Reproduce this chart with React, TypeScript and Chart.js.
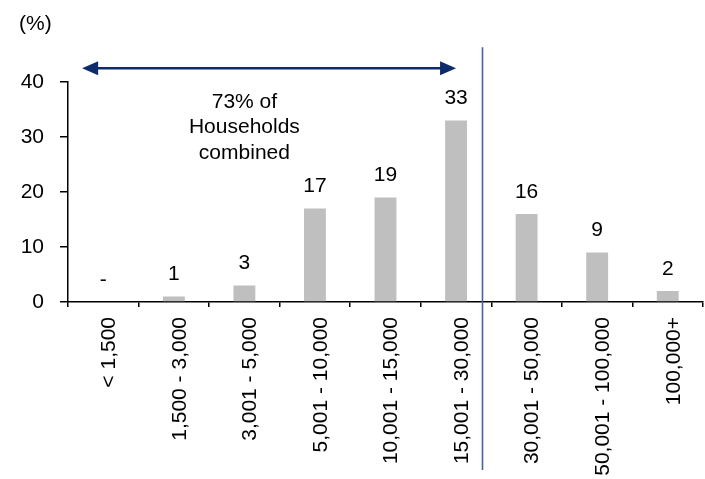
import React, { useEffect, useRef } from "react";
import { Chart, registerables } from "chart.js";

Chart.register(...registerables);

const categories = [
  "< 1,500",
  "1,500 - 3,000",
  "3,001 - 5,000",
  "5,001 - 10,000",
  "10,001 - 15,000",
  "15,001 - 30,000",
  "30,001 - 50,000",
  "50,001 - 100,000",
  "100,000+",
];
const shares = [0, 1, 3, 17, 19, 33, 16, 9, 2];
const unitLabel = "(%)";
const noteLines = ["73% of", "Households", "combined"];

const FONT = '"Liberation Sans", Arial, sans-serif';

const annotPlugin = {
  id: "annot",
  afterDatasetsDraw(chart: any) {
    const { ctx } = chart;
    const xs = chart.scales.x;
    const ys = chart.scales.y;
    const meta = chart.getDatasetMeta(0);
    ctx.save();
    ctx.font = `21px ${FONT}`;
    ctx.fillStyle = "#000";
    ctx.textAlign = "center";
    ctx.textBaseline = "middle";
    meta.data.forEach((bar: any, i: number) => {
      const v = shares[i];
      ctx.fillText(v === 0 ? "-" : String(v), bar.x, bar.y - 22);
    });

    // unit label
    ctx.textAlign = "left";
    ctx.fillText(unitLabel, 19, 24);

    // note text
    ctx.textAlign = "center";
    const cx = xs.getPixelForValue(2);
    const y0 = ys.getPixelForValue(36.4);
    noteLines.forEach((t, k) => ctx.fillText(t, cx, y0 + k * 25.5));

    // arrow
    const ay = ys.getPixelForValue(42.5);
    const ax1 = xs.getPixelForValue(-0.3);
    const ax2 = xs.getPixelForValue(5);
    const navy = "#0d2a6b";
    ctx.strokeStyle = navy;
    ctx.fillStyle = navy;
    ctx.lineWidth = 2.5;
    ctx.beginPath();
    ctx.moveTo(ax1 + 10, ay);
    ctx.lineTo(ax2 - 10, ay);
    ctx.stroke();
    ctx.beginPath();
    ctx.moveTo(ax1, ay);
    ctx.lineTo(ax1 + 16, ay - 7);
    ctx.lineTo(ax1 + 16, ay + 7);
    ctx.closePath();
    ctx.fill();
    ctx.beginPath();
    ctx.moveTo(ax2, ay);
    ctx.lineTo(ax2 - 16, ay - 7);
    ctx.lineTo(ax2 - 16, ay + 7);
    ctx.closePath();
    ctx.fill();

    // vertical divider
    const vx = Math.round(xs.getPixelForValue(5.37)) + 0.5;
    ctx.strokeStyle = "#44659c";
    ctx.lineWidth = 1.6;
    ctx.beginPath();
    ctx.moveTo(vx, ys.getPixelForValue(46.3));
    ctx.lineTo(vx, chart.height - 9);
    ctx.stroke();
    ctx.restore();
  },
};

export default function App() {
  const ref = useRef<HTMLCanvasElement>(null);
  useEffect(() => {
    const chart = new Chart(ref.current as HTMLCanvasElement, {
      type: "bar",
      data: {
        labels: categories,
        datasets: [
          {
            data: shares,
            backgroundColor: "#bfbfbf",
            borderWidth: 0,
            barPercentage: 0.31,
            categoryPercentage: 1,
          },
        ],
      },
      options: {
        animation: false,
        responsive: true,
        maintainAspectRatio: false,
        layout: { padding: { top: 82, right: 2, left: 0, bottom: 0 } },
        plugins: { legend: { display: false }, tooltip: { enabled: false } },
        scales: {
          x: {
            offset: true,
            grid: {
              offset: true,
              drawOnChartArea: false,
              drawTicks: true,
              tickLength: 5,
              color: "#000",
              lineWidth: 1.5,
            },
            border: { display: true, color: "#000", width: 1.5 },
            ticks: {
              minRotation: 90,
              maxRotation: 90,
              autoSkip: false,
              padding: 10,
              labelOffset: 6,
              color: "#000",
              font: { family: FONT, size: 21 },
            },
            afterFit: (s: any) => {
              s.height = 177;
            },
          },
          y: {
            min: 0,
            max: 40,
            ticks: {
              stepSize: 10,
              padding: 16,
              color: "#000",
              font: { family: FONT, size: 21 },
            },
            grid: {
              drawOnChartArea: false,
              tickLength: 8,
              color: "#000",
              lineWidth: 1.5,
            },
            border: { display: true, color: "#000", width: 1.5 },
            afterFit: (s: any) => {
              s.width = 68;
            },
          },
        },
      },
      plugins: [annotPlugin],
    } as any);
    return () => chart.destroy();
  }, []);
  return (
    <div style={{ position: "absolute", left: 0, top: 0, width: 705, height: 479 }}>
      <canvas ref={ref} />
    </div>
  );
}
